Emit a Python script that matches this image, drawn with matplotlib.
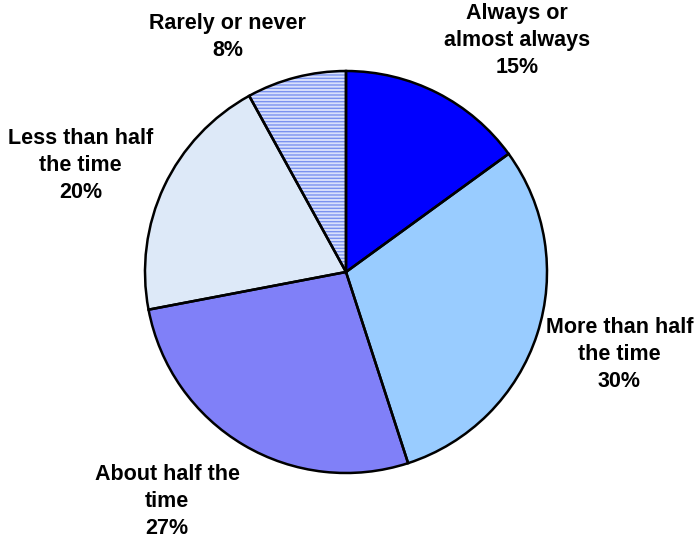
import matplotlib
matplotlib.use("Agg")
import matplotlib.pyplot as plt
from matplotlib.patches import Wedge

labels = ["Always or\nalmost always", "More than half\nthe time", "About half the\ntime",
          "Less than half\nthe time", "Rarely or never"]
values = [15, 30, 27, 20, 8]
colors = ["#0000ff", "#99ccff", "#8080f8", "#dde9f8", "#d8e0fc"]
hatches = [None, None, None, None, "-" * 5]
# label centres in data units (pie radius = 1)
label_pos = [(0.85, 1.15), (1.36, -0.41), (-0.89, -1.14), (-1.32, 0.53), (-0.59, 1.17)]

W, H, DPI = 697, 546, 100
cx, cy, R = 346, 272, 201

plt.rcParams["hatch.linewidth"] = 1.0

fig = plt.figure(figsize=(W / DPI, H / DPI), dpi=DPI)
ax = fig.add_axes([0, 0, 1, 1])

wedges, _ = ax.pie(values, colors=colors, startangle=90, counterclock=False,
                   radius=1, center=(0, 0), frame=True,
                   wedgeprops=dict(edgecolor="none", linewidth=0))
for w, h in zip(wedges, hatches):
    if h:
        ax.add_patch(Wedge(w.center, w.r, w.theta1, w.theta2, facecolor="none",
                           edgecolor="#7b93f0", linewidth=0, hatch=h, zorder=2))
    ax.add_patch(Wedge(w.center, w.r, w.theta1, w.theta2, facecolor="none",
                       edgecolor="black", linewidth=1.8, zorder=3))

ax.set_xlim(-cx / R, (W - cx) / R)
ax.set_ylim(-(H - cy) / R, cy / R)
ax.set_aspect("equal")
ax.axis("off")

for lab, v, (x, y) in zip(labels, values, label_pos):
    ax.text(x, y, f"{lab}\n{v}%", ha="center", va="center", fontsize=15.5,
            fontweight="bold", family="Liberation Sans", linespacing=1.38)

fig.savefig("out.png", dpi=DPI)
